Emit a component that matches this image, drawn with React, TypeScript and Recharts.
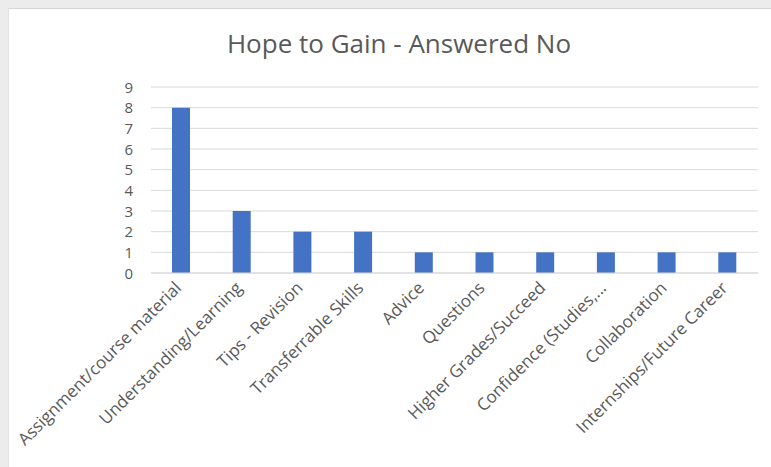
import React from "react";
import { BarChart, Bar, XAxis, YAxis, CartesianGrid } from "recharts";

const categories = [
  "Assignment/course material",
  "Understanding/Learning",
  "Tips - Revision",
  "Transferrable Skills",
  "Advice",
  "Questions",
  "Higher Grades/Succeed",
  "Confidence (Studies,...",
  "Collaboration",
  "Internships/Future Career",
];
const values = [8, 3, 2, 2, 1, 1, 1, 1, 1, 1];
const yTicks = [0, 1, 2, 3, 4, 5, 6, 7, 8, 9];

const data = categories.map((c, i) => ({ name: c, value: values[i] }));

const FONT = "'Open Sans', Lato, sans-serif";
const GREY = "#595959";

const XTick = (props: any) => {
  const { x, y, payload } = props;
  return (
    <g transform={`translate(${x + 1},${y + 8})`}>
      <text
        textAnchor="end"
        transform="rotate(-45)"
        fill={GREY}
        fontSize={17}
        fontFamily={FONT}
      >
        {payload.value}
      </text>
    </g>
  );
};

const YTick = (props: any) => {
  const { x, y, payload } = props;
  return (
    <text
      x={x - 8}
      y={y}
      dy={5.5}
      textAnchor="end"
      fill={GREY}
      fontSize={15}
      fontFamily={FONT}
    >
      {payload.value}
    </text>
  );
};

export default function App() {
  return (
    <div
      style={{
        position: "fixed",
        left: 0,
        top: 0,
        width: 771,
        height: 467,
        background: "#ececec",
        overflow: "hidden",
      }}
    >
      <div
        style={{
          position: "absolute",
          left: 8,
          top: 8,
          width: 763,
          height: 459,
          background: "#ffffff",
          borderTop: "1px solid #d4d4d4",
          borderLeft: "1px solid #e2e2e2",
        }}
      >
        <div
          style={{
            position: "absolute",
            left: 0,
            top: 16,
            width: 780,
            textAlign: "center",
            fontFamily: FONT,
            fontSize: 26,
            lineHeight: "normal",
            color: GREY,
            whiteSpace: "nowrap",
          }}
        >
          Hope to Gain - Answered No
        </div>
        <BarChart
          width={762}
          height={458}
          data={data}
          margin={{ top: 78, right: 13, left: 0, bottom: 0 }}
        >
          <CartesianGrid vertical={false} stroke="#d9d9d9" />
          <XAxis
            dataKey="name"
            interval={0}
            height={194}
            tickLine={false}
            axisLine={{ stroke: "#d9d9d9" }}
            tick={<XTick />}
          />
          <YAxis
            width={142}
            domain={[0, 9]}
            ticks={yTicks}
            interval={0}
            axisLine={false}
            tickLine={false}
            tickSize={10}
            tickMargin={0}
            tick={<YTick />}
          />
          <Bar dataKey="value" fill="#4472c4" barSize={18} isAnimationActive={false} />
        </BarChart>
      </div>
    </div>
  );
}
